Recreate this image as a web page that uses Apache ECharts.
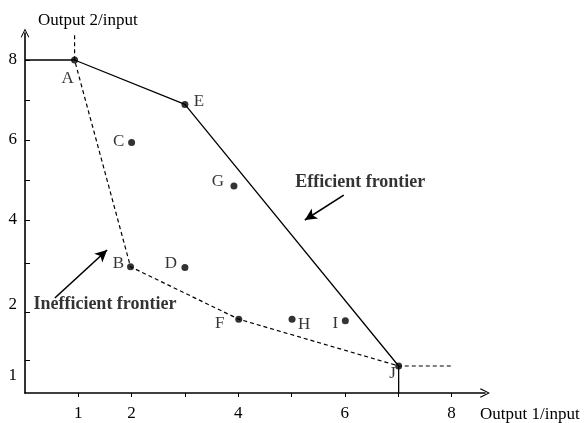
<!DOCTYPE html>
<html>
<head>
<meta charset="utf-8">
<script src="https://cdn.jsdelivr.net/npm/echarts@6/dist/echarts.min.js"></script>
<style>html,body{margin:0;padding:0;background:#fff}#c{width:585px;height:423px}</style>
</head>
<body>
<div id="c"></div>
<script>
// ---- data ----
const pointNames = ['A', 'E', 'C', 'G', 'B', 'D', 'F', 'H', 'I', 'J'];
const pointX = [0.93, 3.0, 2.0, 3.92, 1.98, 3.0, 4.01, 5.01, 6.01, 7.01];
const pointY = [8.0, 6.89, 5.94, 4.85, 2.83, 2.81, 1.52, 1.52, 1.48, 0.35];
const efficientPath = ['A', 'E', 'J'];
const inefficientPath = ['A', 'B', 'F', 'J'];
const inefficientTopY = 8.62;   // dashed line above A
const inefficientEndX = 8.0;    // dashed line right of J
const xTickValues = [1, 2, 3, 4, 5, 6, 7, 8];
const xLabelValues = [1, 2, 4, 6, 8];
const yTickValues = [8, 7, 6, 5, 4, 2.93, 1.7, 0.5];
const yLabelValues = [8, 6, 4, 1.88, 0.1];
const yLabelTexts = ['8', '6', '4', '2', '1'];
const xName = 'Output 1/input';
const yName = 'Output 2/input';
const annotationTexts = ['Efficient frontier', 'Inefficient frontier'];
const annotationX = [6.29, 1.5];
const annotationY = [4.95, 1.9];
const arrowFrom = [[5.98, 4.62], [0.56, 2.05]];
const arrowTo = [[5.25, 4.0], [1.54, 3.25]];

// ---- build ----
const xMin = 0, xMax = 8.63, yMin = -0.325, yMax = 8.675;
const pt = n => { const i = pointNames.indexOf(n); return [pointX[i], pointY[i]]; };
const A = pt('A'), J = pt('J');
const effData = [[xMin, A[1]]].concat(efficientPath.map(pt)).concat([[J[0], yMin]]);
const ineffData = [[A[0], inefficientTopY]].concat(inefficientPath.map(pt)).concat([[inefficientEndX, J[1]]]);

const labelOffsets = {
  A: [-7, 19], E: [14, -3], C: [-13, -1], G: [-16, -4], B: [-12, -3],
  D: [-14, -4], F: [-19, 4], H: [12, 5], I: [-10, 3], J: [-6, 8]
};
const serif = '"Liberation Serif", "Times New Roman", serif';
const chevron = 'path://M0,10 L5,0 L10,10 L9,10.7 L5,2.3 L1,10.7 Z';

const chart = echarts.init(document.getElementById('c'), null, {renderer: 'canvas'});
chart.setOption({
  animation: false,
  backgroundColor: '#fff',
  grid: {left: 25, right: 100, top: 33, bottom: 30, containLabel: false},
  xAxis: {
    type: 'value', min: xMin, max: xMax,
    name: xName, nameLocation: 'end', nameGap: -5,
    nameTextStyle: {fontFamily: serif, fontSize: 17, color: '#000', align: 'left', verticalAlign: 'top', padding: [13, 0, 0, 0]},
    axisLine: {show: true, onZero: false, lineStyle: {color: '#000', width: 1.6}, symbol: ['none', chevron], symbolSize: [12, 10]},
    axisTick: {show: true, customValues: xTickValues, inside: false, length: 4, lineStyle: {color: '#000'}},
    axisLabel: {customValues: xLabelValues, fontFamily: serif, fontSize: 17, color: '#000', margin: 12},
    splitLine: {show: false}
  },
  yAxis: {
    type: 'value', min: yMin, max: yMax,
    name: yName, nameLocation: 'end', nameGap: 12,
    nameTextStyle: {fontFamily: serif, fontSize: 17, color: '#000', align: 'left', verticalAlign: 'middle', padding: [0, 0, 0, 13]},
    axisLine: {show: true, onZero: false, lineStyle: {color: '#000', width: 1.6}, symbol: ['none', chevron], symbolSize: [9, 9]},
    axisTick: {show: true, customValues: yTickValues, inside: true, length: 5, lineStyle: {color: '#000'}},
    axisLabel: {
      customValues: yLabelValues, fontFamily: serif, fontSize: 17, color: '#000', margin: 8,
      formatter: v => { const i = yLabelValues.findIndex(t => Math.abs(t - v) < 1e-6); return i >= 0 ? yLabelTexts[i] : ''; }
    },
    splitLine: {show: false}
  },
  series: [
    {
      type: 'line', name: 'Efficient frontier', data: effData, showSymbol: false, silent: true,
      lineStyle: {color: '#000', width: 1.3}
    },
    {
      type: 'line', name: 'Inefficient frontier', data: ineffData, showSymbol: false, silent: true,
      lineStyle: {color: '#000', width: 1.2, type: [4, 3]}
    },
    {
      type: 'scatter', name: 'DMUs', symbolSize: 7, silent: true,
      itemStyle: {color: '#000'},
      data: pointNames.map((n, i) => ({
        name: n, value: [pointX[i], pointY[i]],
        label: {show: true, formatter: n, position: 'inside', offset: labelOffsets[n],
          fontFamily: serif, fontSize: 17, color: '#000'}
      }))
    },
    {
      type: 'scatter', name: 'annotations', symbolSize: 0, silent: true,
      data: annotationTexts.map((t, i) => ({
        value: [annotationX[i], annotationY[i]],
        label: {show: true, formatter: t, position: 'inside', fontFamily: serif, fontWeight: 'bold', fontSize: 18, color: '#000'}
      })),
      markLine: {
        silent: true, symbol: ['none', 'arrow'], symbolSize: [9, 12],
        lineStyle: {color: '#000', width: 1.6, type: 'solid'},
        label: {show: false},
        data: arrowFrom.map((f, i) => [{coord: f}, {coord: arrowTo[i]}])
      }
    }
  ]
});
</script>
</body>
</html>
